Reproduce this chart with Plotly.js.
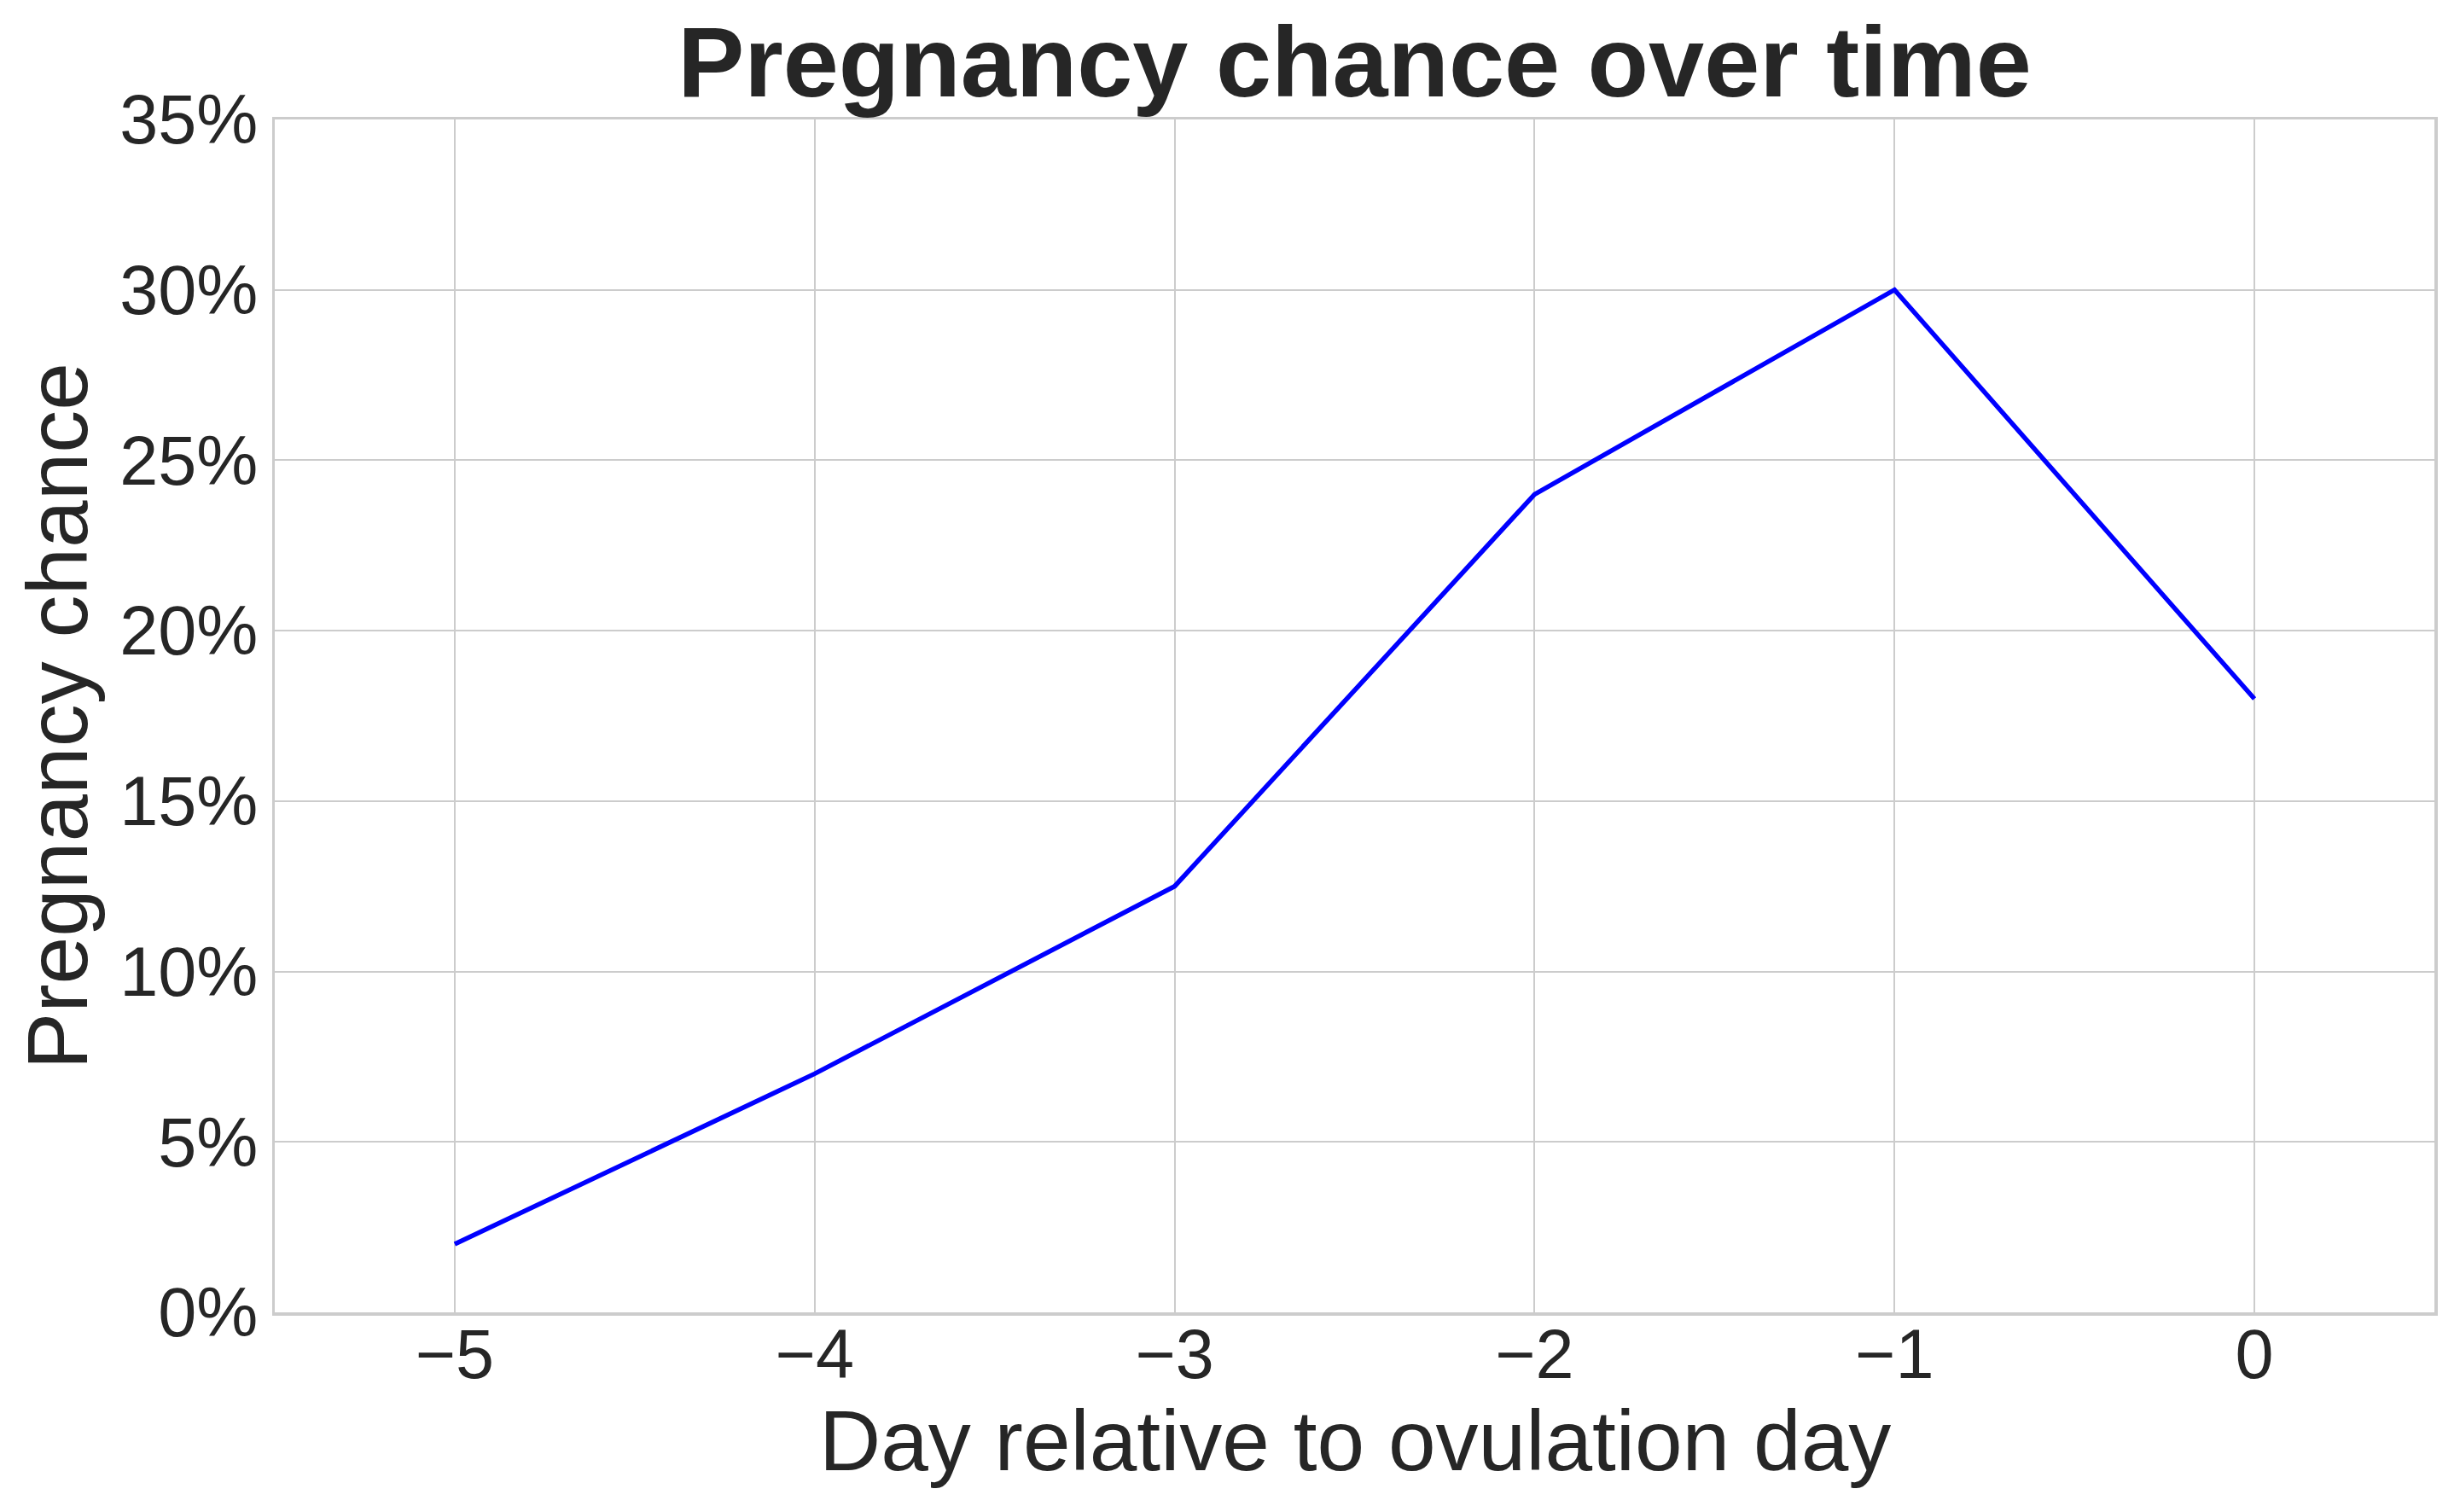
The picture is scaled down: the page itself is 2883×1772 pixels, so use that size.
<!DOCTYPE html>
<html>
<head>
<meta charset="utf-8">
<script src="https://cdn.plot.ly/plotly-3.0.1.min.js"></script>
<style>
  html, body { margin: 0; padding: 0; background: #fff; }
  #chart { width: 2883px; height: 1772px; }
</style>
</head>
<body>
<div id="chart"></div>
<script>
// days relative to ovulation and pregnancy chance (%)
const days = [-5, -4, -3, -2, -1, 0];
const chance = [2, 7, 12.5, 24, 30, 18];
const yTicks = [0, 5, 10, 15, 20, 25, 30, 35];

const textColor = '#262626';
const gridColor = '#cccccc';

const drawChart = () => {
    let data = [
        {
            x: days,
            y: chance,
            type: 'scatter',
            mode: 'lines',
            line: { color: '#0000ff', width: 5.5 },
            hoverinfo: 'x+y',
        }
    ];
    // axis titles as annotations so they sit exactly where matplotlib put them
    let annotations = [
        {
            text: 'Day relative to ovulation day',
            xref: 'paper', yref: 'paper', x: 0.5, y: -0.1073,
            xanchor: 'center', yanchor: 'middle',
            showarrow: false,
            font: { size: 100, color: textColor },
        },
        {
            text: 'Pregnancy chance',
            xref: 'paper', yref: 'paper', x: -0.1006, y: 0.5,
            xanchor: 'center', yanchor: 'middle',
            textangle: -90,
            showarrow: false,
            font: { size: 100, color: textColor },
        },
    ];
    let layout = {
        width: 2883,
        height: 1772,
        paper_bgcolor: '#ffffff',
        plot_bgcolor: '#ffffff',
        showlegend: false,
        font: { family: '"Liberation Sans", Arial, sans-serif', color: textColor },
        margin: { l: 322, r: 30, t: 140, b: 234, pad: 0 },
        title: {
            text: '<b>Pregnancy chance over time</b>',
            font: { size: 117, color: textColor },
            xref: 'paper', x: 0.5, xanchor: 'center',
            yref: 'container', y: 1 - 72 / 1772, yanchor: 'middle',
        },
        annotations: annotations,
        xaxis: {
            range: [-5.5, 0.5],
            tickvals: days,
            showgrid: true, gridcolor: gridColor, gridwidth: 2,
            zeroline: false,
            showline: true, linecolor: gridColor, linewidth: 3.5, mirror: true,
            ticks: '',
            ticklabelstandoff: -24,
            tickfont: { size: 81, color: textColor },
            automargin: false,
        },
        yaxis: {
            range: [0, 35],
            tickvals: yTicks,
            ticktext: yTicks.map((v) => v + '%'),
            showgrid: true, gridcolor: gridColor, gridwidth: 2,
            zeroline: false,
            showline: true, linecolor: gridColor, linewidth: 3.5, mirror: true,
            ticks: '',
            tickfont: { size: 81, color: textColor },
            automargin: false,
        },
    };
    Plotly.newPlot('chart', data, layout, { displayModeBar: false, staticPlot: true });
}

drawChart();
</script>
</body>
</html>
